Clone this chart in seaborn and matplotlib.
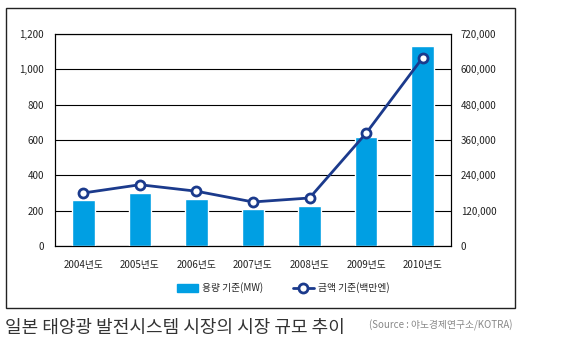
import numpy as np
import matplotlib
matplotlib.use('Agg')
import matplotlib.pyplot as plt
import seaborn as sns
import pandas as pd
from matplotlib.patches import Rectangle
from matplotlib.lines import Line2D

# data
years = ['2004년도', '2005년도', '2006년도', '2007년도', '2008년도', '2009년도', '2010년도']
capacity_mw = [260, 300, 266, 209, 226, 619, 1132]
amount_myen = [180000, 208000, 186000, 149500, 163000, 383000, 639500]
left_ticks = [0, 200, 400, 600, 800, 1000, 1200]
right_ticks = [0, 120000, 240000, 360000, 480000, 600000, 720000]

sns.set_style('white')
plt.rcParams['font.family'] = ['Noto Sans CJK KR', 'DejaVu Sans']

bar_col = '#009FE3'
line_col = '#1B3A8C'

df = pd.DataFrame({'year': years, 'mw': capacity_mw, 'yen': amount_myen})

fig = plt.figure(figsize=(5.63, 3.6), dpi=100)
ax = fig.add_axes([0.0977, 0.3167, 0.7033, 0.589])

sns.barplot(data=df, x='year', y='mw', color=bar_col, width=0.4,
            saturation=1, ax=ax, zorder=3)
ax.set_ylim(0, 1200)
ax.set_xlim(-0.5, 6.5)
ax.set_yticks(left_ticks)
ax.set_yticklabels(['0', '200', '400', '600', '800', '1,000', '1,200'])
ax.yaxis.grid(True, color='black', linewidth=0.8, zorder=0)
ax.set_axisbelow(True)
ax.set_xlabel('')
ax.set_ylabel('')
ax.tick_params(axis='both', length=0, labelsize=7, colors='#222222')
ax.tick_params(axis='y', pad=8)
ax.tick_params(axis='x', pad=10)
for s in ax.spines.values():
    s.set_color('black')
    s.set_linewidth(0.8)

ax2 = ax.twinx()
sns.lineplot(x=np.arange(len(years)), y=df['yen'], ax=ax2, color=line_col,
             linewidth=2, marker='o', markersize=6.5, markerfacecolor='white',
             markeredgecolor=line_col, markeredgewidth=2, zorder=5)
ax2.set_ylim(0, 720000)
ax2.set_yticks(right_ticks)
ax2.set_yticklabels([f'{v:,}' for v in right_ticks])
ax2.set_ylabel('')
ax2.tick_params(axis='y', length=0, labelsize=7, colors='#222222', pad=7)
for s in ax2.spines.values():
    s.set_color('black')
    s.set_linewidth(0.8)

# legend
handles = [Rectangle((0, 0), 1, 1, color=bar_col),
           Line2D([0], [0], color=line_col, linewidth=2, marker='o', markersize=6.5,
                  markerfacecolor='white', markeredgecolor=line_col, markeredgewidth=2)]
fig.legend(handles, ['용량 기준(MW)', '금액 기준(백만엔)'], loc='center',
           bbox_to_anchor=(0.503, 0.2), ncol=2, frameon=False, fontsize=7,
           handlelength=2.2, handleheight=0.8, columnspacing=3, handletextpad=0.4)

# outer frame
fig.patches.append(Rectangle((0.0107, 0.1444), 0.904, 0.8336, transform=fig.transFigure,
                             fill=False, edgecolor='#222222', linewidth=1))

fig.text(0.008, 0.09, '일본 태양광 발전시스템 시장의 시장 규모 추이', fontsize=13,
         color='#333333', va='center', ha='left')
fig.text(0.91, 0.095, '(Source : 야노경제연구소/KOTRA)', fontsize=7,
         color='#888888', va='center', ha='right')

fig.savefig('out.png', dpi=100)
